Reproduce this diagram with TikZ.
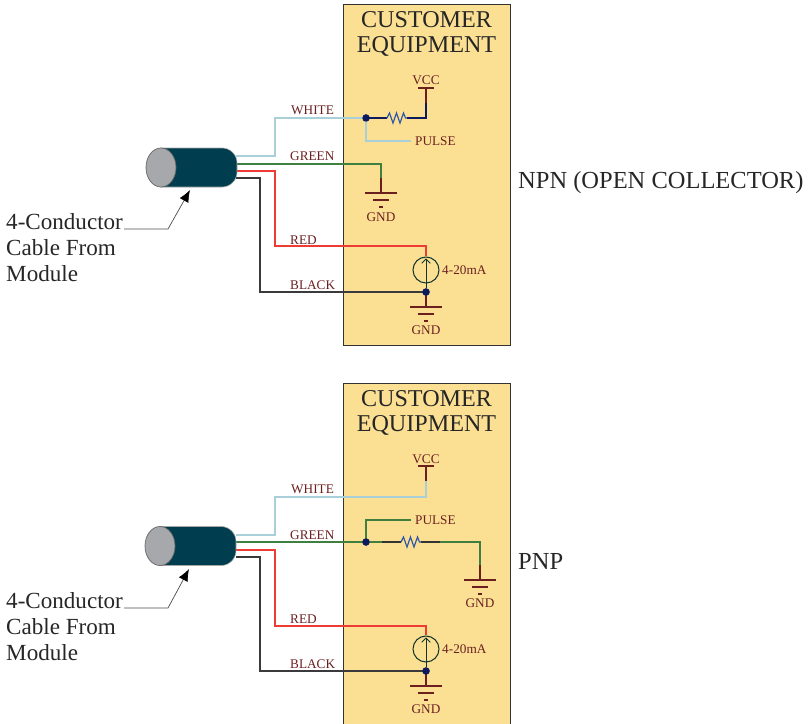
\documentclass[tikz,border=0pt]{standalone}
\usepackage{fontspec}
\setmainfont{Liberation Serif}
\usetikzlibrary{arrows.meta}

\definecolor{caja}{HTML}{FBE094}
\definecolor{marron}{HTML}{6B1F1F}
\definecolor{petroleo}{HTML}{003E4F}
\definecolor{gristapa}{HTML}{A6A8AB}
\definecolor{cblanco}{HTML}{A9CFD9}
\definecolor{cverde}{HTML}{3F7F3F}
\definecolor{crojo}{HTML}{EE3B33}
\definecolor{cnegro}{HTML}{3A3A3C}
\definecolor{marino}{HTML}{0D1B5E}
\definecolor{azulr}{HTML}{2F55A4}
\definecolor{oscuro}{HTML}{14352A}

\tikzset{
    cajon/.style={draw=black!80, fill=caja, line width=0.6pt},
    titulo/.style={font=\fontsize{20.6}{25}\selectfont, align=center, text=black!85, inner sep=0pt},
    grande/.style={font=\fontsize{20.9}{25}\selectfont, anchor=west, text=black!85, inner sep=0pt},
    nota/.style={font=\fontsize{19.7}{22.5}\selectfont, anchor=north west, align=left, text=black!85, inner sep=0pt},
    etiq/.style={font=\fontsize{11.3}{13}\selectfont, text=marron, inner sep=0pt},
    hilo/.style={line width=1.1pt},
    punto/.style={circle, fill=marino, minimum size=0.22cm, inner sep=0pt},
    fuente/.style={circle, draw=oscuro, line width=0.9pt, minimum size=0.78cm, inner sep=0pt},
    flechita/.style={oscuro, line width=0.7pt, -{Straight Barb[length=0.13cm,width=0.26cm]}},
    tierra/.pic={
        \draw[marron, line width=1.1pt] (0,-15) -- (0,0);
        \draw[marron, line width=1.2pt] (-16,0) -- (16,0);
        \draw[marron, line width=1.2pt] (-8,7) -- (8,7);
        \draw[marron, line width=1.2pt] (-2,14) -- (2,14);
    },
    vcc/.pic={
        \draw[marron, line width=1.2pt] (-8,0) -- (8,0);
        \draw[marron, line width=1.1pt] (0,0) -- (0,15);
    },
    resis/.pic={
        \draw[azulr, line width=1pt] (-10,0) -- (-7.5,-5) -- (-4,5) -- (-0.5,-5) -- (3,5) -- (6.5,-5) -- (8.5,0) -- (10,0);
    },
    cableo/.pic={
        \filldraw[draw=gray!70, fill=petroleo, line width=0.5pt] (0,-19.5) [rounded corners=0.45cm] -- (76,-19.5) -- (76,19.5) [sharp corners] -- (0,19.5) -- cycle;
        \filldraw[draw=black!60, fill=gristapa, line width=0.6pt] (0,0) ellipse [x radius=15, y radius=19.5];
    },
}

\begin{document}
\begin{tikzpicture}[x=0.03cm, y=-0.03cm]
    \useasboundingbox (0,0) rectangle (809,723);

    % Cajas
    \draw[cajon] (343.5,4) rectangle (510,345);
    \draw[cajon] (343.5,383) rectangle (510,730);
    \node[titulo] (cust1) at (426.5,34) {CUSTOMER\\[-4pt]EQUIPMENT};
    \node[titulo] (cust2) at (426.5,413) {CUSTOMER\\[-4pt]EQUIPMENT};

    % Puntos de la parte de arriba
    \coordinate (w1) at (236,156);
    \coordinate (g1) at (236,164);
    \coordinate (r1) at (236,171);
    \coordinate (b1) at (236,178);
    \coordinate (wa1) at (275,118);
    \coordinate (ra1) at (275,246);
    \coordinate (ba1) at (260,292);
    \coordinate (rr1) at (397,118);
    \coordinate (re1) at (387,118);
    \coordinate (rf1) at (407,118);
    \coordinate (rv1) at (426,118);
    \coordinate (vc1) at (426,88);
    \coordinate (vb1) at (426,103);
    \coordinate (pu1) at (411,141);
    \coordinate (gn1) at (381,193);
    \coordinate (gm1) at (426,307);
    \node[fuente] (s1) at (426,270) {};
    \node[punto] (n1) at (366,118) {};
    \node[punto] (d1) at (426,292) {};

    % Cables de arriba
    \draw[hilo, cblanco] (w1) -| (wa1) -- (n1.center);
    \draw[hilo, cblanco] (n1.center) |- (pu1);
    \draw[hilo, cverde] (g1) -| (gn1);
    \draw[hilo, crojo] (r1) -| (ra1) -| (s1.north);
    \draw[hilo, cnegro] (b1) -| (ba1) -- (d1.center);
    \draw[hilo, marino] (n1.center) -- (re1);
    \draw[hilo, marino] (rf1) -- (rv1) -- (vb1);
    \draw[oscuro, line width=0.8pt] (d1) -- (s1.south);
    \draw[flechita] (s1.south) -- ([yshift=-0.06cm]s1.north);
    \pic at (rr1) {resis};
    \pic at (vc1) {vcc};
    \pic at (gn1) {tierra};
    \pic at (gm1) {tierra};
    \node[punto] at (n1) {};
    \node[punto] at (d1) {};

    % Puntos de la parte de abajo
    \coordinate (w2) at (236,535);
    \coordinate (g2) at (236,542);
    \coordinate (r2) at (236,550);
    \coordinate (b2) at (236,557);
    \coordinate (wa2) at (275,497);
    \coordinate (ra2) at (275,626);
    \coordinate (ba2) at (260,671);
    \coordinate (rr2) at (411,542);
    \coordinate (rd2) at (381.5,542);
    \coordinate (re2) at (401,542);
    \coordinate (rf2) at (421,542);
    \coordinate (rh2) at (440,542);
    \coordinate (ga2) at (480,580);
    \coordinate (vc2) at (426,466);
    \coordinate (pu2) at (411,520);
    \coordinate (gm2) at (426,686);
    \node[fuente] (s2) at (426,649) {};
    \node[punto] (n2) at (366,542) {};
    \node[punto] (d2) at (426,671) {};

    % Cables de abajo
    \draw[hilo, cblanco] (w2) -| (wa2) -| (vc2);
    \draw[hilo, cverde] (n2.center) |- (pu2);
    \draw[hilo, cverde] (g2) -- (n2.center) -- (rd2);
    \draw[hilo, cverde] (rh2) -| (ga2);
    \draw[hilo, crojo] (r2) -| (ra2) -| (s2.north);
    \draw[hilo, cnegro] (b2) -| (ba2) -- (d2.center);
    \draw[hilo, black!80] (rd2) -- (re2);
    \draw[hilo, black!80] (rf2) -- (rh2);
    \draw[oscuro, line width=0.8pt] (d2) -- (s2.south);
    \draw[flechita] (s2.south) -- ([yshift=-0.06cm]s2.north);
    \pic at (rr2) {resis};
    \pic at (vc2) {vcc};
    \pic at (ga2) {tierra};
    \pic at (gm2) {tierra};
    \node[punto] at (n2) {};
    \node[punto] at (d2) {};

    % Cilindros
    \pic at (161,167.5) {cableo};
    \pic at (160,546) {cableo};

    % Etiquetas de arriba
    \node[etiq, anchor=west] (lw1) at (291,110.5) {WHITE};
    \node[etiq, anchor=west] (lg1) at (290,156.5) {GREEN};
    \node[etiq, anchor=west] (lr1) at (290,240) {RED};
    \node[etiq, anchor=west] (lb1) at (290,285.5) {BLACK};
    \node[etiq] (lv1) at (426,80.5) {VCC};
    \node[etiq, anchor=west] (lp1) at (415,141) {PULSE};
    \node[etiq] (lt1) at (381,217) {GND};
    \node[etiq] (lm1) at (426,330.5) {GND};
    \node[etiq, anchor=west] (la1) at (442,270) {4-20mA};
    \node[grande] (npn) at (518,183) {NPN (OPEN COLLECTOR)};

    % Etiquetas de abajo
    \node[etiq, anchor=west] (lw2) at (291,489.5) {WHITE};
    \node[etiq, anchor=west] (lg2) at (290,535.5) {GREEN};
    \node[etiq, anchor=west] (lr2) at (290,619) {RED};
    \node[etiq, anchor=west] (lb2) at (290,664.5) {BLACK};
    \node[etiq] (lv2) at (426,459.5) {VCC};
    \node[etiq, anchor=west] (lp2) at (415,520) {PULSE};
    \node[etiq] (lt2) at (480,603) {GND};
    \node[etiq] (lm2) at (426,709) {GND};
    \node[etiq, anchor=west] (la2) at (442,649) {4-20mA};
    \node[grande] (pnp) at (518,561) {PNP};

    % Notas con flecha
    \node[nota] (tx1) at (6,213) {4-Conductor\\Cable From\\Module};
    \node[nota] (tx2) at (6,592) {4-Conductor\\Cable From\\Module};
    \coordinate (c1) at (168,229);
    \coordinate (c2) at (168,608);
    \coordinate (p1) at (190,190);
    \coordinate (p2) at (189,569);
    \coordinate (q1) at (124,229);
    \coordinate (q2) at (124,608);
    \draw[black!70, line width=0.6pt, -{Latex[length=0.36cm,width=0.3cm,black]}] (q1) -- (c1) -- (p1);
    \draw[black!70, line width=0.6pt, -{Latex[length=0.36cm,width=0.3cm,black]}] (q2) -- (c2) -- (p2);
\end{tikzpicture}
\end{document}
